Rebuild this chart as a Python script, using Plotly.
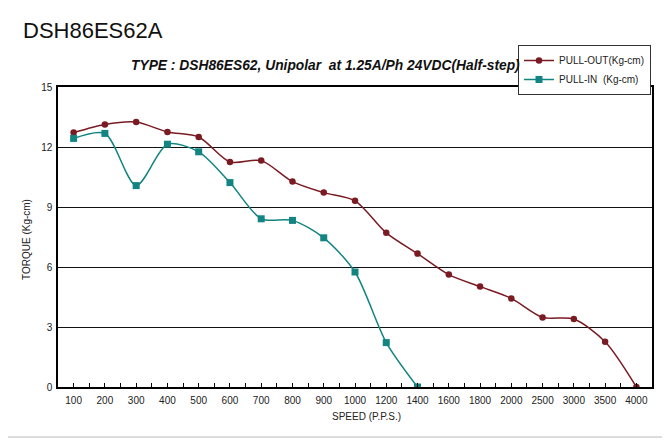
import plotly.graph_objects as go

speed_labels = ["100", "200", "300", "400", "500", "600", "700", "800", "900", "1000",
                "1200", "1400", "1600", "1800", "2000", "2500", "3000", "3500", "4000"]
pull_out = [12.72, 13.13, 13.25, 12.75, 12.5, 11.25, 11.32, 10.27, 9.72, 9.31,
            7.71, 6.67, 5.62, 5.02, 4.43, 3.48, 3.40, 2.26, 0.0]
pull_in = [12.43, 12.68, 10.07, 12.14, 11.76, 10.22, 8.41, 8.33, 7.46, 5.75, 2.22, 0.0]
y_ticks = [0, 3, 6, 9, 12, 15]

x_out = list(range(len(pull_out)))
x_in = list(range(len(pull_in)))

RED = "#7a1a22"
TEAL = "#128482"
FONT = "Liberation Sans, Arial, sans-serif"

fig = go.Figure()
fig.add_trace(go.Scatter(
    x=x_out, y=pull_out, name="PULL-OUT(Kg-cm)", mode="lines+markers",
    line=dict(color=RED, width=1.5, shape="spline", smoothing=0.8),
    marker=dict(symbol="circle", size=6.5, color=RED),
))
fig.add_trace(go.Scatter(
    x=x_in, y=pull_in, name="PULL-IN  (Kg-cm)", mode="lines+markers",
    line=dict(color=TEAL, width=1.5, shape="spline", smoothing=0.8),
    marker=dict(symbol="square", size=7, color=TEAL),
))

# page has an 8px body margin; figure is sized/positioned to compensate
OFF = 8
W, H = 670 - OFF, 441 - OFF
L, T = 58 - OFF, 87 - OFF
R = W - (652 - OFF)
B = H - (387 - OFF)
pw, ph = W - L - R, H - T - B

def px(x):
    return (x - OFF - L) / pw

def py(y):
    return (H + OFF - B - y) / ph

fig.update_layout(
    width=W, height=H,
    margin=dict(l=L, r=R, t=T, b=B, autoexpand=False),
    paper_bgcolor="white", plot_bgcolor="white",
    font=dict(family=FONT, size=10, color="#222"),
    showlegend=True,
    legend=dict(
        x=px(651), y=py(45), xanchor="right", yanchor="top",
        bgcolor="white", bordercolor="#333", borderwidth=1,
        font=dict(size=10, family=FONT, color="#222"),
        tracegroupgap=0, itemwidth=30,
    ),
    xaxis=dict(
        range=[-0.5, len(speed_labels) - 0.5],
        tickmode="array", tickvals=x_out, ticktext=speed_labels,
        showgrid=False, zeroline=False,
        showline=True, linecolor="black", linewidth=1.5, mirror=True,
        ticks="inside", ticklen=4, tickcolor="black",
        minor=dict(ticks="inside", ticklen=4, tickcolor="black",
                   tickvals=[i + 0.5 for i in range(len(speed_labels) - 1)]),
        tickfont=dict(size=10),
        ticklabelstandoff=3,
        automargin=False,
    ),
    yaxis=dict(
        range=[0, 15], tickmode="array", tickvals=y_ticks,
        showgrid=True, gridcolor="#111", gridwidth=1.3,
        zeroline=False,
        showline=True, linecolor="black", linewidth=1.5, mirror=True,
        ticks="", tickfont=dict(size=10),
        ticklabelstandoff=2,
        automargin=False,
    ),
)

fig.add_shape(type="line", xref="paper", yref="paper",
              x0=px(8), x1=px(668), y0=py(437), y1=py(437),
              line=dict(color="#dcdcdc", width=2), layer="below")
fig.add_shape(type="line", xref="paper", yref="paper",
              x0=px(667), x1=px(667), y0=py(437), y1=py(8),
              line=dict(color="#dcdcdc", width=2), layer="below")

fig.add_annotation(text="DSH86ES62A", xref="paper", yref="paper",
                   x=px(21), y=py(30), xanchor="left", yanchor="middle",
                   showarrow=False, font=dict(size=22, family=FONT, color="#111"))
fig.add_annotation(text="<b><i>TYPE : DSH86ES62, Unipolar  at 1.25A/Ph 24VDC(Half-step)</i></b>",
                   xref="paper", yref="paper", x=px(325), y=py(66),
                   xanchor="center", yanchor="middle", showarrow=False,
                   font=dict(size=13.8, family=FONT, color="#111"))
fig.add_annotation(text="SPEED (P.P.S.)", xref="paper", yref="paper",
                   x=px(366), y=py(416), xanchor="center", yanchor="middle",
                   showarrow=False, font=dict(size=10, family=FONT, color="#222"))
fig.add_annotation(text="TORQUE (Kg-cm)", xref="paper", yref="paper",
                   x=px(26), y=py(240), xanchor="center", yanchor="middle",
                   textangle=-90, showarrow=False,
                   font=dict(size=10, family=FONT, color="#222"))

fig.write_html("out.html")
